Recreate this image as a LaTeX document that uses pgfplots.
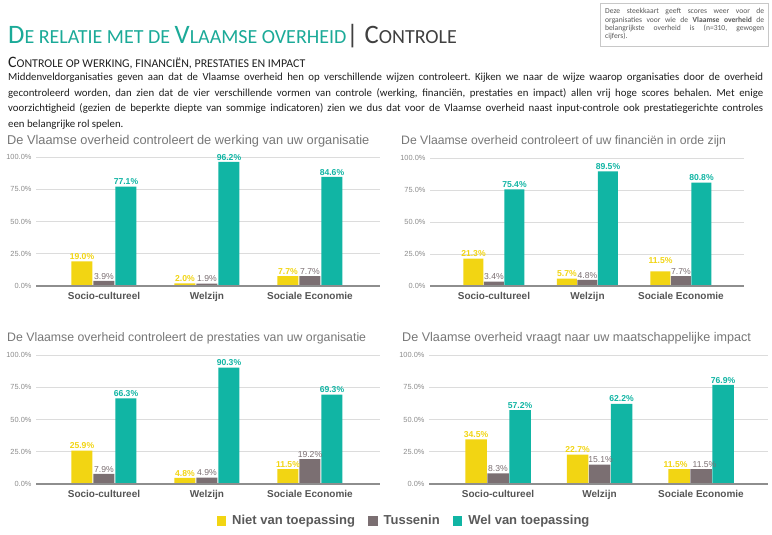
\documentclass[border=0pt]{standalone}
\usepackage{pgfplots}
\pgfplotsset{compat=1.18}
\usepackage{fontspec}
\setmainfont{Carlito}
\newfontfamily\chartfont{Liberation Sans}

\definecolor{cYel}{HTML}{F2D513}
\definecolor{cGry}{HTML}{7B6F72}
\definecolor{cTeal}{HTML}{11B5A4}
\definecolor{cHead}{HTML}{1BAA98}
\definecolor{cTitle}{HTML}{777777}
\definecolor{cTick}{HTML}{8C8C8C}
\definecolor{cCat}{HTML}{555555}
\definecolor{cGrid}{HTML}{DCDCDC}
\definecolor{cBase}{HTML}{8E8E8E}
\definecolor{cLeg}{HTML}{5A5A5A}
\definecolor{cText}{HTML}{1E1E1E}
\definecolor{cBox}{HTML}{C8C8C8}

\pgfplotsset{
  panel/.style={
    scale only axis, height=129pt,
    ymin=0, ymax=100,
    ybar=1pt, bar width=21pt,
    axis line style={draw=none},
    ytick={0,25,50,75,100},
    ymajorgrids, grid style={cGrid, line width=0.6pt},
    major tick length=0pt,
    xtick={0,1,2},
    xticklabels={Socio-cultureel,Welzijn,Sociale Economie},
    xticklabel style={font=\chartfont\fontsize{10}{10}\selectfont\bfseries, text=cCat, yshift=-3pt},
    yticklabel style={font=\chartfont\fontsize{7.4}{8}\selectfont, text=cTick, anchor=east, xshift=-1pt},
    /pgf/number format/assume math mode=true,
    yticklabel={\pgfmathprintnumber[fixed,fixed zerofill,precision=1]{\tick}\%},
    nodes near coords={\pgfmathprintnumber[fixed,fixed zerofill,precision=1]{\pgfplotspointmeta}\%},
    nodes near coords style={font=\chartfont\fontsize{8.6}{9}\selectfont, inner sep=1.5pt},
    clip=false,
  },
  yel/.style={draw=none, fill=cYel, every node near coord/.append style={text=cYel, font=\chartfont\fontsize{8.6}{9}\selectfont\bfseries}},
  gry/.style={draw=none, fill=cGry, every node near coord/.append style={text=cGry}},
  tea/.style={draw=none, fill=cTeal, every node near coord/.append style={text=cTeal, font=\chartfont\fontsize{8.6}{9}\selectfont\bfseries}},
  % per-point label offsets (dx, dy in pt) where labels would collide
  nudged/.style={
    visualization depends on={\thisrow{dx} \as \dx},
    visualization depends on={\thisrow{dy} \as \dy},
    every node near coord/.append style={xshift=\dx pt, yshift=\dy pt}},
}

\begin{document}
\frenchspacing
\begin{tikzpicture}
\path[use as bounding box, fill=white] (0pt,0pt) rectangle (772pt,-535pt);

% heading
\node[anchor=base west, inner sep=0] at (8pt,-44pt) {%
  {\color{cHead}{\fontsize{26.6}{26}\selectfont D}{\fontsize{20}{20}\selectfont E RELATIE MET DE }{\fontsize{26.6}{26}\selectfont V}{\fontsize{20}{20}\selectfont LAAMSE OVERHEID}}%
  {\color{black!75}{\fontsize{26.6}{26}\selectfont | C}{\fontsize{20}{20}\selectfont ONTROLE}}};

\node[anchor=base west, inner sep=0, text=black!88] at (8pt,-68pt) {%
  {\fontsize{15.9}{15}\selectfont C}{\fontsize{11.9}{12}\selectfont ONTROLE OP WERKING, FINANCIËN, PRESTATIES EN IMPACT}};

\node[anchor=base west, inner sep=0, text=cText] at (8pt,-81pt) {%
  \begin{minipage}[t]{755pt}\fontsize{10.8}{15.4}\selectfont
  \noindent\hbox to\linewidth{Middenveldorganisaties geven aan dat de Vlaamse overheid hen op verschillende wijzen controleert. Kijken we naar de wijze waarop organisaties door de overheid}\par
  \noindent\hbox to\linewidth{gecontroleerd worden, dan zien dat de vier verschillende vormen van controle (werking, financiën, prestaties en impact) allen vrij hoge scores behalen. Met enige}\par
  \noindent\hbox to\linewidth{voorzichtigheid (gezien de beperkte diepte van sommige indicatoren) zien we dus dat voor de Vlaamse overheid naast input-controle ook prestatiegerichte controles}\par
  \noindent\hbox{een belangrijke rol spelen.}
  \end{minipage}};

% note box
\draw[cBox, line width=0.6pt] (600pt,-3pt) rectangle (768pt,-46pt);
\node[anchor=base west, inner sep=0, text=black!65] at (605pt,-14pt) {%
  \begin{minipage}[t]{159pt}\fontsize{7.6}{8.1}\selectfont
  \noindent\hbox to\linewidth{Deze steekkaart geeft scores weer voor de}\par
  \noindent\hbox to\linewidth{organisaties voor wie de \textbf{Vlaamse overheid} de}\par
  \noindent\hbox to\linewidth{belangrijkste overheid is (n=310, gewogen}\par
  \noindent\hbox{cijfers).}
  \end{minipage}};

% chart titles
\tikzset{ctitle/.style={anchor=base west, inner sep=0, text=cTitle}}
\node[ctitle, font=\chartfont\fontsize{12.8}{13}\selectfont] at (7pt,-144pt) {De Vlaamse overheid controleert de werking van uw organisatie};
\node[ctitle, font=\chartfont\fontsize{12.2}{13}\selectfont] at (401pt,-144pt) {De Vlaamse overheid controleert of uw financiën in orde zijn};
\node[ctitle, font=\chartfont\fontsize{12.3}{13}\selectfont] at (7pt,-341pt) {De Vlaamse overheid controleert de prestaties van uw organisatie};
\node[ctitle, font=\chartfont\fontsize{12.6}{13}\selectfont] at (402pt,-341pt) {De Vlaamse overheid vraagt naar uw maatschappelijke impact};

% chart 1: werking
\begin{axis}[panel, at={(36pt,-286pt)}, anchor=south west, width=344pt, xmin=-0.66, xmax=2.68]
\addplot[yel] coordinates {(0,19.0) (1,2.0) (2,7.7)};
\addplot[gry] coordinates {(0,3.9) (1,1.9) (2,7.7)};
\addplot[tea] coordinates {(0,77.1) (1,96.2) (2,84.6)};
\draw[cBase, line width=1.2pt] (rel axis cs:0,0) -- (rel axis cs:1,0);
\end{axis}

% chart 2: financien
\begin{axis}[panel, at={(430pt,-286pt)}, anchor=south west, width=314pt, height=128pt, bar width=20pt, ybar=0.5pt, xmin=-0.684, xmax=2.674]
\addplot[yel, nudged] table[x=x, y=y, row sep=\\] {
x y    dx dy \\
0 21.3 0  0  \\
1 5.7  0  0  \\
2 11.5 0  6  \\
};
\addplot[gry] coordinates {(0,3.4) (1,4.8) (2,7.7)};
\addplot[tea] coordinates {(0,75.4) (1,89.5) (2,80.8)};
\draw[cBase, line width=1.2pt] (rel axis cs:0,0) -- (rel axis cs:1,0);
\end{axis}

% chart 3: prestaties
\begin{axis}[panel, at={(36pt,-484pt)}, anchor=south west, width=344pt, xmin=-0.66, xmax=2.68]
\addplot[yel] coordinates {(0,25.9) (1,4.8) (2,11.5)};
\addplot[gry] coordinates {(0,7.9) (1,4.9) (2,19.2)};
\addplot[tea] coordinates {(0,66.3) (1,90.3) (2,69.3)};
\draw[cBase, line width=1.2pt] (rel axis cs:0,0) -- (rel axis cs:1,0);
\end{axis}

% chart 4: impact (carries the shared legend)
\begin{axis}[panel, at={(429pt,-484pt)}, anchor=south west, width=339pt, bar width=21.5pt, ybar=0.5pt, xmin=-0.68, xmax=2.66,
  legend columns=3,
  legend style={at={(-0.0737,-0.287)}, anchor=center, draw=none, fill=none,
    font=\chartfont\fontsize{13}{13}\selectfont\bfseries, text=cLeg,
    /tikz/every odd column/.append style={column sep=4pt},
    /tikz/every even column/.append style={column sep=11pt}},
  legend image code/.code={\fill[#1] (0pt,-4.8pt) rectangle (9.6pt,4.8pt);}]
\addplot[yel, nudged] table[x=x, y=y, row sep=\\] {
x y    dx   dy \\
0 34.5 0    0  \\
1 22.7 0    0  \\
2 11.5 -3.5 0  \\
};
\addplot[gry, nudged] table[x=x, y=y, row sep=\\] {
x y    dx  dy \\
0 8.3  0   0  \\
1 15.1 1   0  \\
2 11.5 3.5 0  \\
};
\addplot[tea] coordinates {(0,57.2) (1,62.2) (2,76.9)};
\draw[cBase, line width=1.2pt] (rel axis cs:0,0) -- (rel axis cs:1,0);
\legend{Niet van toepassing,Tussenin,Wel van toepassing}
\end{axis}
\end{tikzpicture}
\end{document}
